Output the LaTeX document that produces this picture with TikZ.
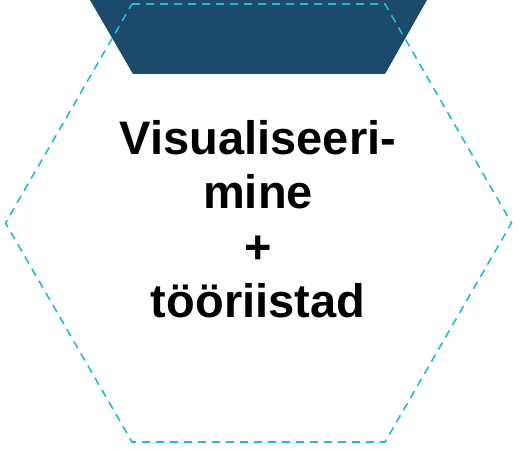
\documentclass[tikz,border=0pt]{standalone}
\usepackage{fontspec}
\setmainfont{Liberation Sans}
\definecolor{hexblue}{HTML}{1B4A6B}
\definecolor{hexcyan}{HTML}{22BAD4}
\tikzset{
  label text/.style={anchor=base,font=\fontsize{47}{54}\selectfont\bfseries,inner sep=0pt},
  hex line/.style={hexcyan,line width=1.6pt,dash pattern=on 8pt off 6pt}
}
\begin{document}
\begin{tikzpicture}[x=1pt,y=-1pt]
  \useasboundingbox (0,0) rectangle (519,449);
  % top bar
  \fill[hexblue] (90,0) -- (427,0) -- (385,74) -- (133,74) -- cycle;
  % dashed hexagon
  \draw[hex line] (132,4) -- (385,4) -- (511.5,223) -- (385,442) -- (132,442) -- (5.5,223) -- cycle;
  \node[label text] (vis) at (258,155) {Visualiseeri-};
  \node[label text] (mine) at (258,208) {mine};
  \node[label text] (plus) at (258,263) {+};
  \node[label text] (tools) at (258,317) {tööriistad};
\end{tikzpicture}
\end{document}
